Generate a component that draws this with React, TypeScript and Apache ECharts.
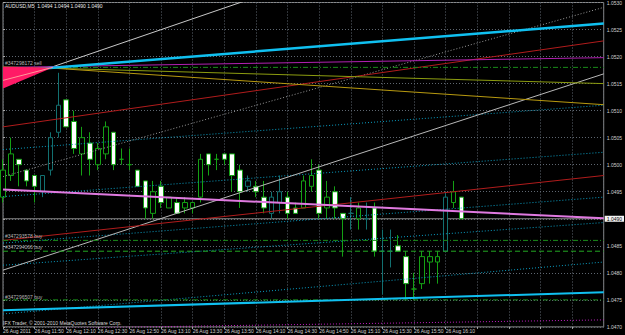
import React, { useEffect, useRef } from 'react';
import * as echarts from 'echarts';

const titleText = 'AUDUSD,M5  1.0494 1.0494 1.0490 1.0490';
const footerText = 'IFX Trader, © 2001-2010 MetaQuotes Software Corp.';

const tickIndex = [0, 4, 8, 12, 16, 20, 24, 28, 32, 36, 40, 44, 48, 52, 56];
const tickLabels = ['26 Aug 2011', '26 Aug 11:50', '26 Aug 12:10', '26 Aug 12:30', '26 Aug 12:50', '26 Aug 13:10', '26 Aug 13:30', '26 Aug 13:50', '26 Aug 14:10', '26 Aug 14:30', '26 Aug 14:50', '26 Aug 15:10', '26 Aug 15:30', '26 Aug 15:50', '26 Aug 16:10'];

const opens = [1.0494, 1.0498, 1.0501, 1.0499, 1.0498, 1.0495, 1.0499, 1.0506, 1.0512, 1.0508, 1.0502, 1.0504, 1.0500, 1.0502, 1.0506, 1.0501, 1.0500, 1.0499, 1.0497, 1.0491, 1.0496, 1.0492, 1.0493, 1.0492, 1.0492, 1.0494, 1.0502, 1.0501, 1.0502, 1.0502, 1.0499, 1.0496, 1.0496, 1.0494, 1.0491, 1.0493, 1.0494, 1.0492, 1.0492, 1.0496, 1.0499, 1.0492, 1.0495, 1.0491, 1.0491, 1.0490, 1.0490, 1.0492, 1.0484, 1.0484, 1.0485, 1.0483, 1.0477, 1.0478, 1.0482, 1.0482, 1.0484, 1.0493, 1.0494];
const highs = [1.0501, 1.0505, 1.0501, 1.0499, 1.0498, 1.0498, 1.0506, 1.0517, 1.0512, 1.0510, 1.0507, 1.0506, 1.0504, 1.0508, 1.0506, 1.0503, 1.0503, 1.0499, 1.0497, 1.0497, 1.0497, 1.0494, 1.0494, 1.0494, 1.0493, 1.0502, 1.0502, 1.0502, 1.0502, 1.0502, 1.0500, 1.0498, 1.0497, 1.0497, 1.0495, 1.0498, 1.0495, 1.0493, 1.0498, 1.0501, 1.0500, 1.0497, 1.0496, 1.0491, 1.0494, 1.0493, 1.0493, 1.0493, 1.0488, 1.0488, 1.0487, 1.0484, 1.0480, 1.0484, 1.0484, 1.0484, 1.0495, 1.0497, 1.0494];
const lows = [1.0493, 1.0497, 1.0496, 1.0496, 1.0493, 1.0494, 1.0498, 1.0505, 1.0507, 1.0502, 1.0498, 1.0498, 1.0499, 1.0501, 1.0499, 1.0500, 1.0499, 1.0496, 1.0490, 1.0490, 1.0492, 1.0492, 1.0491, 1.0491, 1.0491, 1.0493, 1.0498, 1.0499, 1.0500, 1.0495, 1.0492, 1.0495, 1.0494, 1.0491, 1.0490, 1.0491, 1.0490, 1.0491, 1.0492, 1.0495, 1.0490, 1.0490, 1.0490, 1.0483, 1.0488, 1.0488, 1.0488, 1.0483, 1.0476, 1.0481, 1.0484, 1.0475, 1.0475, 1.0477, 1.0478, 1.0478, 1.0484, 1.0492, 1.0490];
const closes = [1.0499, 1.0502, 1.0500, 1.0497, 1.0496, 1.0498, 1.0505, 1.0511, 1.0507, 1.0503, 1.0505, 1.0501, 1.0503, 1.0507, 1.0500, 1.0501, 1.0500, 1.0496, 1.0492, 1.0495, 1.0493, 1.0494, 1.0491, 1.0493, 1.0493, 1.0501, 1.0500, 1.0501, 1.0501, 1.0498, 1.0495, 1.0497, 1.0495, 1.0492, 1.0494, 1.0495, 1.0491, 1.0491, 1.0497, 1.0498, 1.0491, 1.0494, 1.0492, 1.0490, 1.0491, 1.0492, 1.0490, 1.0484, 1.0484, 1.0484, 1.0484, 1.0478, 1.0477, 1.0483, 1.0483, 1.0483, 1.0494, 1.0495, 1.0490];
const tealBars = [5, 6, 7, 31, 34, 35, 44, 46, 48, 49, 56];

const cyanUpper = [[0, 1.05172], [76, 1.05261]];
const cyanLower = [[0, 1.04731], [76, 1.04764]];
const redUpper = [[0, 1.0507], [76, 1.05229]];
const redLower = [[0, 1.0486], [76, 1.0498]];
const magentaUpper = [[0, 1.0518], [76, 1.05198]];
const oliveLine = [[0, 1.05181], [76, 1.0515]];
const goldLine = [[6.9, 1.05178], [76, 1.05111]];
const violetLine = [[0, 1.04954], [76, 1.04901]];
const grayRising = [[0, 1.04805], [76, 1.05168]];
const grayDotted = [[0, 1.04978], [76, 1.05291]];
const whiteSteep = [[6.06, 1.0518], [40, 1.0535]];
const cyanDotted1 = [[0, 1.05028], [76, 1.0511]];
const cyanDotted2 = [[0, 1.04941], [76, 1.05023]];
const cyanDotted3 = [[0, 1.04855], [76, 1.0494]];
const cyanDotted4 = [[0, 1.04814], [76, 1.04893]];
const cyanDotted5 = [[0, 1.04724], [76, 1.0482]];
const magentaDotted = [[0, 1.04696], [76, 1.04713]];
const fanPoints = [[0, 1.05181], [0, 1.05141], [6.3, 1.0518]];
const fanInner = [[0, 1.05156], [6.3, 1.0518]];
const bidPrice = 1.049;
const orderPrices = [1.0518, 1.0486, 1.0484, 1.0475];
const orderLabels = ['#347298172 sell', '#347293578 buy', '#347294066 buy', '#347296507 buy'];

const FONT = 'Liberation Sans';

function line(data: number[][], color: string, width: number, type: any, z = 3) {
  return {
    type: 'line', data, symbol: 'none', showSymbol: false, silent: true, z,
    lineStyle: { color, width, type }, animation: false,
  };
}

export default function App() {
  const ref = useRef<HTMLDivElement>(null);
  useEffect(() => {
    const chart = echarts.init(ref.current!, null, { renderer: 'svg' });
    const candleData = opens.map((o, i) => {
      const item: any = { value: [i, o, closes[i], lows[i], highs[i]] };
      if (tealBars.includes(i)) item.itemStyle = { borderColor: '#127070', borderColor0: '#127070' };
      return item;
    });
    const orderLabelY = [60, 233, 244, 294];
    const option: any = {
      animation: false,
      backgroundColor: '#000',
      grid: { left: 1.8, right: 18.2, top: 1.7, bottom: 8.1, show: true, borderColor: '#8a8a8a', borderWidth: 1 },
      xAxis: {
        type: 'value', min: 0, max: 76, interval: 4,
        axisLine: { show: false },
        axisTick: { show: true, length: 2, lineStyle: { color: '#aaa' } },
        axisLabel: {
          color: '#d0d0d0', fontSize: 5, fontFamily: FONT, align: 'left', margin: 2,
          formatter: (v: number) => { const k = tickIndex.indexOf(Math.round(v)); return k >= 0 ? tickLabels[k] : ''; },
          showMaxLabel: false,
        },
        splitLine: { show: true, lineStyle: { color: '#5e6670', type: [1, 2], width: 1 } },
      },
      yAxis: {
        type: 'value', position: 'right', min: 1.047, max: 1.053, interval: 0.0005, scale: true,
        axisLine: { show: false },
        axisTick: { show: true, length: 2, lineStyle: { color: '#aaa' } },
        axisLabel: { color: '#d0d0d0', fontSize: 5, fontFamily: FONT, margin: 3, formatter: (v: number) => v.toFixed(4) },
        splitLine: { show: true, lineStyle: { color: '#5e6670', type: [1, 2], width: 1 } },
      },
      series: [
        line([[0, bidPrice], [76, bidPrice]], '#8c8c8c', 1, 'solid', 1),
        {
          type: 'candlestick', data: candleData, barWidth: 5, z: 2, silent: true,
          encode: { x: 0, y: [1, 2, 3, 4] },
          itemStyle: { color: '#000', color0: '#fff', borderColor: '#14a014', borderColor0: '#14a014', borderWidth: 1 },
        },
        line(cyanDotted1, '#0a9cc0', 1, [1, 2]),
        line(cyanDotted2, '#0a9cc0', 1, [1, 2]),
        line(cyanDotted3, '#0a9cc0', 1, [1, 2]),
        line(cyanDotted4, '#0a9cc0', 1, [1, 2]),
        line(cyanDotted5, '#0a9cc0', 1, [1, 2]),
        line(magentaDotted, '#c020c0', 1, [1, 2]),
        line(grayDotted, '#9a9a9a', 1, [1, 2]),
        line(grayRising, '#b8b8b8', 1, 'solid'),
        line(whiteSteep, '#c8c8c8', 1, 'solid'),
        line(redUpper, '#b01c1c', 1, 'solid'),
        line(redLower, '#b01c1c', 1, 'solid'),
        line(oliveLine, '#8c9c10', 1, 'solid'),
        line(goldLine, '#b89a10', 1, 'solid'),
        line(magentaUpper, '#b020b0', 1, 'solid'),
        line([[0, orderPrices[0]], [76, orderPrices[0]]], '#1a8a1a', 1, [5, 2, 1, 2]),
        line([[0, orderPrices[1]], [76, orderPrices[1]]], '#1a8a1a', 1, [5, 2, 1, 2]),
        line([[0, orderPrices[2]], [76, orderPrices[2]]], '#22a822', 1, [5, 3]),
        line([[0, orderPrices[3]], [76, orderPrices[3]]], '#1a8a1a', 1, [5, 2, 1, 2]),
        line(violetLine, '#e07ae0', 2, 'solid', 4),
        line(cyanUpper, '#10c0f0', 2.5, 'solid', 4),
        line(cyanLower, '#10c0f0', 2, 'solid', 4),
        {
          type: 'custom', coordinateSystem: 'cartesian2d', data: [fanPoints[2]], z: 5, silent: true,
          renderItem: (_p: any, api: any) => ({
            type: 'polygon', shape: { points: fanPoints.map((p) => api.coord(p)) }, style: { fill: '#ff1a66' },
          }),
        },
        line(fanInner, '#ff9a9a', 1, 'solid', 6),
        {
          type: 'line', data: [[0, bidPrice], [76, bidPrice]], symbol: 'none', silent: true, z: 7,
          lineStyle: { width: 0, opacity: 0 },
          endLabel: { show: true, formatter: '1.0490', backgroundColor: '#f4f4f4', color: '#000', fontSize: 5, fontFamily: FONT, padding: [1, 2, 0, 2], distance: 1 },
        },
      ],
      graphic: [
        { type: 'text', left: 5, top: 3, z: 10, style: { text: titleText, fill: '#e8e8e8', font: `5px "${FONT}"` } },
        { type: 'text', left: 3, top: 320, z: 10, style: { text: footerText, fill: '#d8d8d8', font: `5px "${FONT}"` } },
        ...orderLabels.map((t, i) => ({ type: 'text', left: 5, top: orderLabelY[i], z: 10, style: { text: t, fill: '#b8b8b8', font: `5px "${FONT}"` } })),
      ],
    };
    chart.setOption(option);
    return () => chart.dispose();
  }, []);
  return <div ref={ref} style={{ position: 'fixed', left: 0, top: 0, width: 625, height: 335, background: '#000' }} />;
}
